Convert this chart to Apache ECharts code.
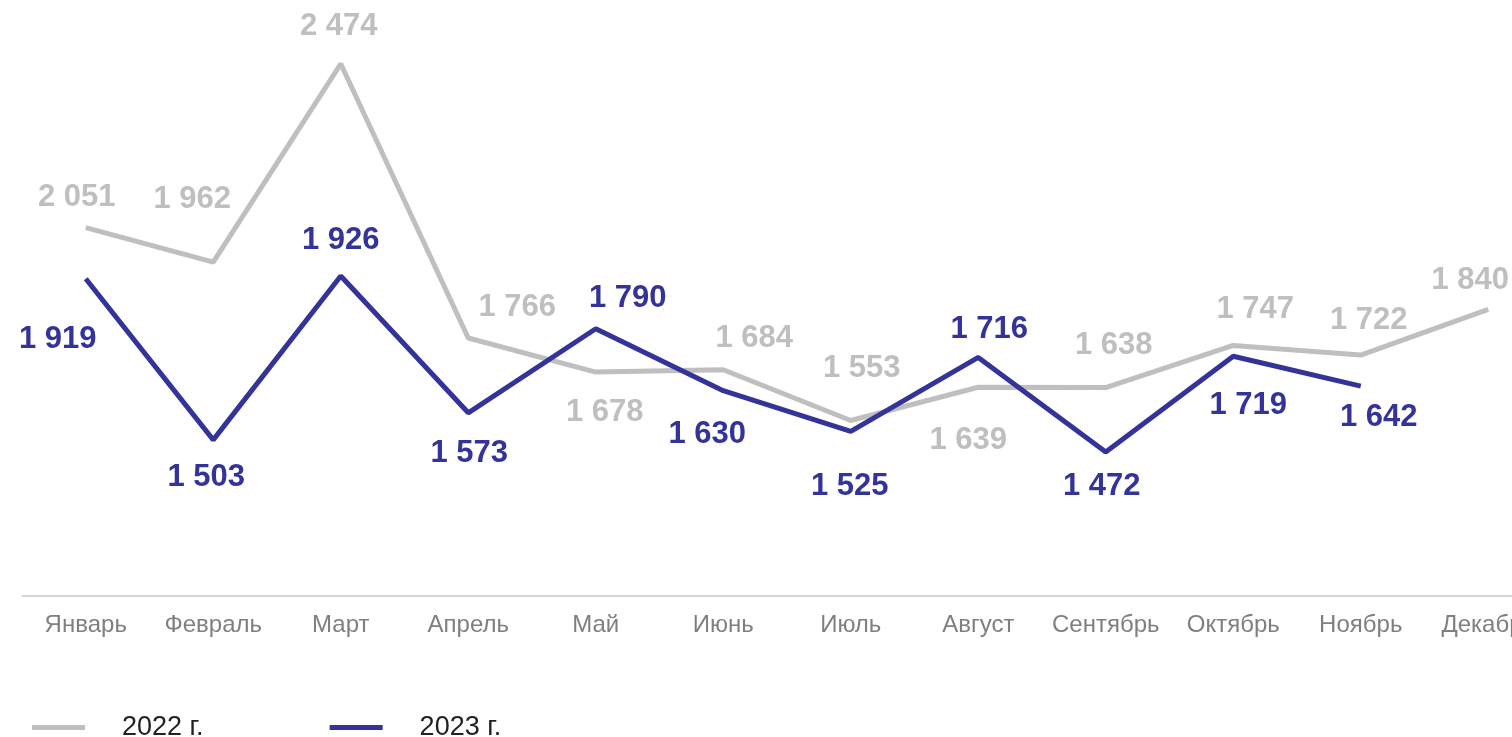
<!DOCTYPE html>
<html>
<head>
<meta charset="utf-8">
<script src="https://cdn.jsdelivr.net/npm/echarts@6/dist/echarts.min.js"></script>
<style>
  html, body { margin: 0; padding: 0; background: #fff; overflow: hidden; }
  #main { width: 1552px; height: 737px; }
</style>
</head>
<body>
<div id="main"></div>
<script>
var months = ["Январь", "Февраль", "Март", "Апрель", "Май", "Июнь", "Июль", "Август", "Сентябрь", "Октябрь", "Ноябрь", "Декабрь"];
var values2022 = [2051, 1962, 2474, 1766, 1678, 1684, 1553, 1639, 1638, 1747, 1722, 1840];
var values2023 = [1919, 1503, 1926, 1573, 1790, 1630, 1525, 1716, 1472, 1719, 1642, null];

// сдвиг подписей относительно точки (как на исходнике)
var offs2022 = [[-9, -30], [-21, -63], [-2, -37], [49, -31], [9, 40], [31, -31], [11, -52], [-10, 53], [8, -42], [22, -36], [8, -35], [-18, -29]];
var offs2023 = [[-28, 61], [-7, 38], [0, -36], [1, 41], [32, -30], [-16, 44], [-1, 55], [11, -28], [-4, 35], [15, 49], [18, 31], [0, 0]];

var gray = "#bfbfbf";
var navy = "#333399";

function fmt(v) {
  return String(v).replace(/\B(?=(\d{3})+(?!\d))/g, " ");
}

function buildData(vals, offs) {
  return vals.map(function (v, i) {
    if (v === null) return "-";
    return { value: v, label: { offset: offs[i] } };
  });
}

function makeSeries(name, vals, offs, color) {
  return {
    name: name,
    type: "line",
    data: buildData(vals, offs),
    color: color,
    lineStyle: { width: 5, color: color },
    symbol: "circle",
    symbolSize: 0.01,
    showSymbol: true,
    label: {
      show: true,
      position: "inside",
      color: color,
      fontSize: 31,
      fontWeight: "bold",
      formatter: function (p) { return fmt(p.value); }
    }
  };
}

var chart = echarts.init(document.getElementById("main"));
chart.setOption({
  animation: false,
  textStyle: { fontFamily: "Liberation Sans, Arial, sans-serif" },
  grid: { left: 22, top: 15, width: 1530, height: 581 },
  xAxis: {
    type: "category",
    data: months,
    boundaryGap: true,
    axisLine: { lineStyle: { color: "#c8c8c8", width: 1.5 } },
    axisTick: { show: false },
    axisLabel: { color: "#7f7f7f", fontSize: 24, margin: 17, interval: 0 }
  },
  yAxis: {
    type: "value",
    min: 1100,
    max: 2600,
    show: false,
    splitLine: { show: false }
  },
  legend: {
    left: 32,
    top: 714,
    padding: 0,
    itemWidth: 53,
    itemHeight: 5,
    itemGap: 126,
    icon: "rect",
    textStyle: { fontSize: 27, color: "#222", padding: [0, 0, 0, 32] },
    data: [
      { name: "2022 г.", itemStyle: { color: gray, opacity: 1 } },
      { name: "2023 г.", itemStyle: { color: navy, opacity: 1 } }
    ]
  },
  series: [
    makeSeries("2022 г.", values2022, offs2022, gray),
    makeSeries("2023 г.", values2023, offs2023, navy)
  ]
});
</script>
</body>
</html>
